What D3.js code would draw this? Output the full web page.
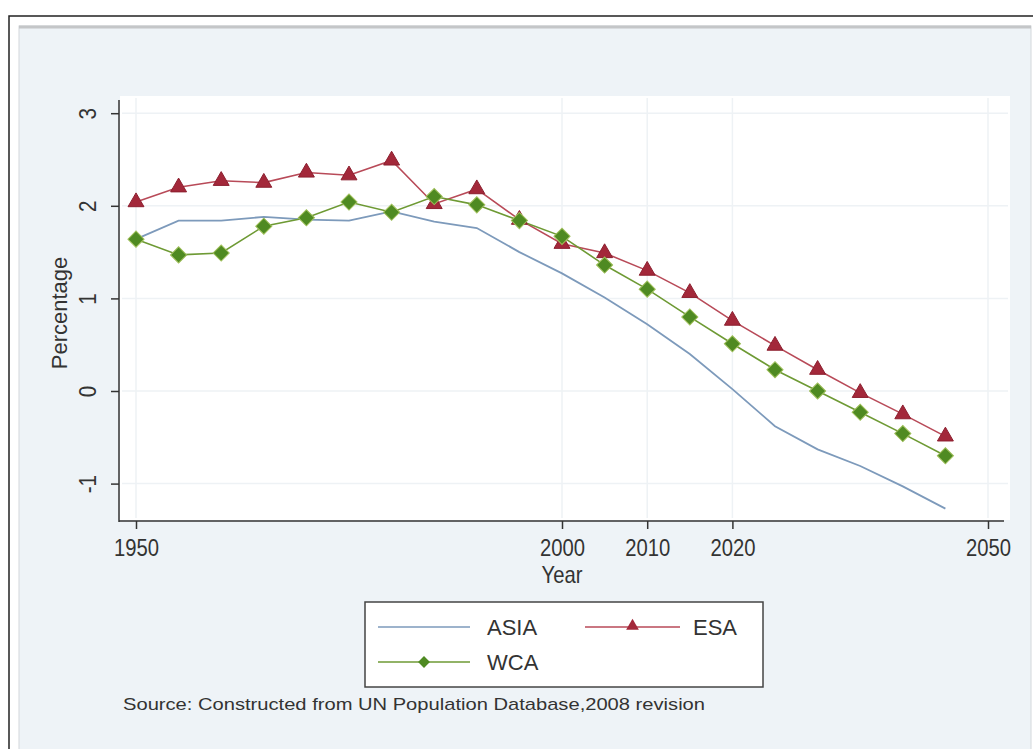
<!DOCTYPE html>
<html>
<head>
<meta charset="utf-8">
<script src="https://cdn.jsdelivr.net/npm/d3@7"></script>
<style>
  html, body { margin: 0; padding: 0; background: #ffffff; }
  svg { display: block; font-family: "Liberation Sans", Arial, sans-serif; }
</style>
</head>
<body>
<svg id="chart" width="1033" height="749"></svg>
<script>
// Annual growth rate (percentage), five-year steps
const years = [1950, 1955, 1960, 1965, 1970, 1975, 1980, 1985, 1990, 1995,
               2000, 2005, 2010, 2015, 2020, 2025, 2030, 2035, 2040, 2045];
const asia = [1.64, 1.84, 1.84, 1.88, 1.85, 1.84, 1.94, 1.83, 1.76, 1.50,
              1.27, 1.01, 0.72, 0.40, 0.02, -0.38, -0.63, -0.81, -1.03, -1.27];
const esa  = [2.04, 2.20, 2.27, 2.25, 2.36, 2.33, 2.49, 2.02, 2.18, 1.85,
              1.59, 1.49, 1.30, 1.06, 0.76, 0.49, 0.23, -0.02, -0.25, -0.49];
const wca  = [1.64, 1.47, 1.49, 1.78, 1.87, 2.04, 1.93, 2.10, 2.01, 1.84,
              1.67, 1.36, 1.10, 0.80, 0.51, 0.23, 0.00, -0.23, -0.46, -0.70];
const xTicks = [1950, 2000, 2010, 2020, 2050];
const yTicks = [-1, 0, 1, 2, 3];
const seriesNames = ["ASIA", "ESA", "WCA"];
const sourceNote = "Source: Constructed from UN Population Database,2008 revision";

const svg = d3.select("#chart");

// outer frame and graph region
svg.append("rect").attr("x", 9).attr("y", 16).attr("width", 1040).attr("height", 760)
  .attr("fill", "#ffffff").attr("stroke", "#222").attr("stroke-width", 1.5);
svg.append("rect").attr("x", 19).attr("y", 26).attr("width", 1012).attr("height", 740)
  .attr("fill", "#eef3f7").attr("stroke", "#d4d8db").attr("stroke-width", 1);
svg.append("line").attr("x1", 19).attr("x2", 1031).attr("y1", 27).attr("y2", 27)
  .attr("stroke", "#c4c6c8").attr("stroke-width", 3);

const x = d3.scaleLinear().domain([1950, 2050]).range([136, 988]);
const y = d3.scaleLinear().domain([-1, 3]).range([483.6, 113.2]);

// plot region
svg.append("rect").attr("x", 120).attr("y", 96).attr("width", 890).attr("height", 424)
  .attr("fill", "#ffffff");

// faint grid
const grid = svg.append("g").attr("stroke", "#eef2f5").attr("stroke-width", 1.5);
grid.selectAll(".gy").data(yTicks).join("line")
  .attr("x1", 122).attr("x2", 1008).attr("y1", d => y(d)).attr("y2", d => y(d));
grid.selectAll(".gx").data(xTicks).join("line")
  .attr("y1", 98).attr("y2", 518).attr("x1", d => x(d)).attr("x2", d => x(d));

// axes
const yAxis = svg.append("g").attr("transform", "translate(119,0)")
  .call(d3.axisLeft(y).tickValues(yTicks).tickSize(8).tickPadding(0).tickFormat(d => String(d)));
yAxis.attr("font-size", null);
yAxis.select(".domain").attr("d", "M0,100V522").attr("stroke", "#333").attr("stroke-width", 1.5);
yAxis.selectAll(".tick line").attr("stroke", "#333").attr("stroke-width", 1.5);
yAxis.selectAll(".tick text").attr("transform", "translate(-31,0) rotate(-90) scale(0.9,1)")
  .attr("x", 0).attr("dy", "0.35em").attr("text-anchor", "middle")
  .attr("font-size", 23).attr("fill", "#333").attr("font-family", "Liberation Sans, Arial, sans-serif");

const xAxis = svg.append("g").attr("transform", "translate(0,521)")
  .call(d3.axisBottom(x).tickValues(xTicks).tickSize(8).tickPadding(6).tickFormat(d => String(d)));
xAxis.attr("font-size", null);
xAxis.select(".domain").attr("d", "M119,0H1004").attr("stroke", "#333").attr("stroke-width", 1.5);
xAxis.selectAll(".tick line").attr("stroke", "#333").attr("stroke-width", 1.5);
xAxis.selectAll(".tick text").attr("font-size", 23).attr("fill", "#333")
  .attr("y", 0).attr("dy", 0)
  .attr("transform", "translate(0,35) scale(0.88,1)")
  .attr("font-family", "Liberation Sans, Arial, sans-serif");

svg.append("text").attr("transform", "translate(562,583) scale(0.88,1)").attr("text-anchor", "middle")
  .attr("font-size", 23).attr("fill", "#333").text("Year");
svg.append("text").attr("transform", "translate(67,313) rotate(-90)").attr("text-anchor", "middle")
  .attr("font-size", 22).attr("fill", "#333").text("Percentage");

// series
const colors = { ASIA: "#7d9abb", ESA: "#b84a58", WCA: "#6e9a34" };
const line = d3.line().x((d, i) => x(years[i])).y(d => y(d));

svg.append("path").datum(asia).attr("d", line).attr("fill", "none")
  .attr("stroke", colors.ASIA).attr("stroke-width", 1.8);
svg.append("path").datum(esa).attr("d", line).attr("fill", "none")
  .attr("stroke", colors.ESA).attr("stroke-width", 1.6);
svg.append("path").datum(wca).attr("d", line).attr("fill", "none")
  .attr("stroke", colors.WCA).attr("stroke-width", 1.6);

const tri = d3.symbol().type(d3.symbolTriangle).size(110);
const dia = d3.symbol().type(d3.symbolSquare).size(130);

svg.append("g").selectAll("path").data(esa).join("path")
  .attr("d", tri)
  .attr("transform", (d, i) => `translate(${x(years[i])},${y(d)})`)
  .attr("fill", "#a3283a").attr("stroke", "#8c1f2f").attr("stroke-width", 1);
svg.append("g").selectAll("path").data(wca).join("path")
  .attr("d", dia)
  .attr("transform", (d, i) => `translate(${x(years[i])},${y(d)}) rotate(45)`)
  .attr("fill", "#4f8a22").attr("stroke", "#9fbf5a").attr("stroke-width", 1);

// legend
const lg = svg.append("g");
lg.append("rect").attr("x", 365).attr("y", 602).attr("width", 398).attr("height", 85)
  .attr("fill", "#ffffff").attr("stroke", "#444").attr("stroke-width", 1.5);
const entries = [
  { name: seriesNames[0], x0: 378, x1: 470, ty: 627, tx: 487, mark: null },
  { name: seriesNames[1], x0: 585, x1: 680, ty: 627, tx: 693, mark: "tri" },
  { name: seriesNames[2], x0: 378, x1: 470, ty: 662, tx: 487, mark: "dia" }
];
entries.forEach(e => {
  lg.append("line").attr("x1", e.x0).attr("x2", e.x1).attr("y1", e.ty).attr("y2", e.ty)
    .attr("stroke", colors[e.name]).attr("stroke-width", 1.6);
  const cx = (e.x0 + e.x1) / 2;
  if (e.mark === "tri") {
    lg.append("path").attr("d", d3.symbol().type(d3.symbolTriangle).size(70))
      .attr("transform", `translate(${cx},${e.ty - 1})`).attr("fill", "#a3283a");
  } else if (e.mark === "dia") {
    lg.append("path").attr("d", d3.symbol().type(d3.symbolSquare).size(70))
      .attr("transform", `translate(${cx},${e.ty}) rotate(45)`).attr("fill", "#4f8a22");
  }
  lg.append("text").attr("x", e.tx).attr("y", e.ty + 8).attr("font-size", 22)
    .attr("fill", "#333").text(e.name);
});

svg.append("text").attr("x", 123).attr("y", 710).attr("font-size", 17)
  .attr("fill", "#333").attr("textLength", 582).attr("lengthAdjust", "spacingAndGlyphs")
  .text(sourceNote);
</script>
</body>
</html>
